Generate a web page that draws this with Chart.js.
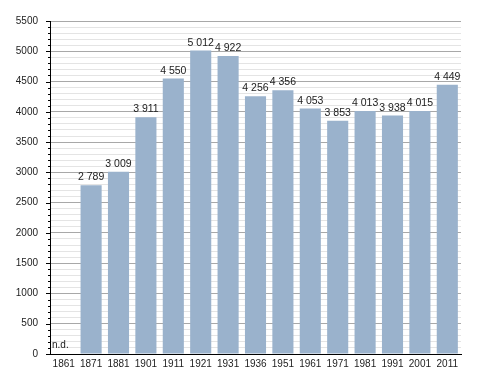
<!DOCTYPE html>
<html>
<head>
<meta charset="utf-8">
<script src="https://cdn.jsdelivr.net/npm/chart.js@4"></script>
<style>
  html, body { margin: 0; padding: 0; background: #fff; }
  #wrap { width: 488px; height: 373px; }
</style>
</head>
<body>
<div id="wrap"><canvas id="chart"></canvas></div>
<script>
// census years and population (1861: no data)
const years = ["1861", "1871", "1881", "1901", "1911", "1921", "1931", "1936",
  "1951", "1961", "1971", "1981", "1991", "2001", "2011"];
const population = [null, 2789, 3009, 3911, 4550, 5012, 4922, 4256,
  4356, 4053, 3853, 4013, 3938, 4015, 4449];
const yMax = 5500;
const noDataText = "n.d.";

const FONT = "'Liberation Sans', Arial, sans-serif";

function fmt(v) {
  const s = String(v);
  return s.length > 3 ? s.slice(0, -3) + " " + s.slice(-3) : s;
}

// value labels above bars + "n.d." + left tick marks (long on majors, short on minors)
const extras = {
  id: "extras",
  afterDatasetsDraw(chart) {
    const ctx = chart.ctx;
    const meta = chart.getDatasetMeta(0);
    ctx.save();
    ctx.fillStyle = "#222";
    ctx.textBaseline = "alphabetic";
    meta.data.forEach((bar, i) => {
      const v = population[i];
      if (v == null) {
        ctx.font = "10px " + FONT;
        ctx.textAlign = "left";
        ctx.fillText(noDataText, chart.chartArea.left + 2, chart.chartArea.bottom - 6);
        return;
      }
      ctx.font = "10.5px " + FONT;
      ctx.textAlign = "center";
      ctx.fillText(fmt(v), bar.x, bar.y - 5);
    });
    const y = chart.scales.y;
    ctx.strokeStyle = "#000";
    ctx.lineWidth = 1;
    y.ticks.forEach(t => {
      const py = Math.round(y.getPixelForValue(t.value)) + 0.5;
      const len = t.value % 500 === 0 ? 4 : 2;
      ctx.beginPath();
      ctx.moveTo(chart.chartArea.left - len, py);
      ctx.lineTo(chart.chartArea.left, py);
      ctx.stroke();
    });
    ctx.restore();
  }
};

new Chart(document.getElementById("chart"), {
  type: "bar",
  data: {
    labels: years,
    datasets: [{
      data: population,
      backgroundColor: "#9ab2cc",
      borderWidth: 0,
      barPercentage: 0.77,
      categoryPercentage: 1
    }]
  },
  options: {
    responsive: true,
    maintainAspectRatio: false,
    animation: false,
    layout: { padding: { top: 21, right: 27, left: 0, bottom: 0 } },
    plugins: {
      legend: { display: false },
      tooltip: { enabled: false }
    },
    scales: {
      x: {
        grid: { display: false, drawTicks: false },
        border: { display: true, color: "#000", width: 1 },
        ticks: {
          color: "#222",
          font: { family: FONT, size: 10 },
          padding: 4,
          maxRotation: 0,
          autoSkip: false
        },
        afterFit: s => { s.height = 19; }
      },
      y: {
        min: 0,
        max: yMax,
        grid: {
          drawTicks: false,
          color: c => (c.tick && c.tick.value % 500 === 0) ? "#a8a8a8" : "#e4e4e4",
          lineWidth: 1
        },
        border: { display: true, color: "#000", width: 1 },
        ticks: {
          stepSize: 100,
          autoSkip: false,
          color: "#222",
          font: { family: FONT, size: 10 },
          padding: 12,
          callback: v => (v % 500 === 0 ? String(v) : "")
        },
        afterFit: s => { s.width = 50; }
      }
    }
  },
  plugins: [extras]
});
</script>
</body>
</html>
